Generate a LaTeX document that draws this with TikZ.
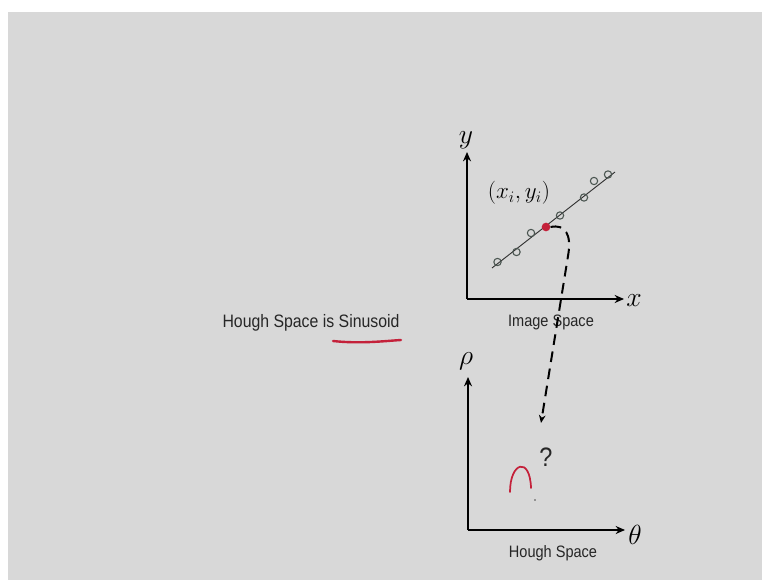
\documentclass[tikz,border=0pt]{standalone}
\usepackage{fontspec}
\usepackage{amsmath}
\setmainfont{Liberation Sans}[FakeStretch=0.88]
\usetikzlibrary{arrows.meta}
\definecolor{slidebg}{HTML}{D8D8D8}
\definecolor{inkred}{HTML}{C4213A}
\definecolor{ptgray}{HTML}{4A5550}
\begin{document}
\begin{tikzpicture}[x=0.75pt,y=-0.75pt]
\tikzset{axis/.style={line width=1.8pt,-{Stealth[length=7pt,width=6pt]}},
  pt/.style={circle,draw=ptgray,line width=0.8pt,inner sep=0pt,minimum size=5.5pt},
  lbl/.style={text=black!85,font=\fontsize{12.4}{14}\selectfont},
  mlbl/.style={font=\fontsize{21}{24}\selectfont}}
\path (0,0) rectangle (762,580);
\fill[slidebg] (8,12) rectangle (762,580);
% image space
\coordinate (io) at (467,299);
\coordinate (iy) at (467,152);
\coordinate (ix) at (624,299);
\draw[axis] (io) -- (iy);
\draw[axis] (io) -- (ix);
\node[mlbl] (ylab) at (466,140) {$y$};
\node[mlbl] (xlab) at (634,301) {$x$};
\node[lbl] (imlab) at (551,322) {Image Space};
\coordinate (la) at (492,268);
\coordinate (lb) at (615,172);
\draw[line width=0.7pt,black!80] (la) -- (lb);
\node[pt] (p1) at (497.5,262) {};
\node[pt] (p2) at (516.5,252) {};
\node[pt] (p3) at (531,233) {};
\node[pt] (p5) at (560,215.5) {};
\node[pt] (p6) at (584,197.5) {};
\node[pt] (p7) at (594,181) {};
\node[pt] (p8) at (608,174.5) {};
\node[circle,fill=inkred,inner sep=0pt,minimum size=6.5pt] (pr) at (546,227) {};
\node (plab) at (519,193) {\fontsize{18}{20}\selectfont$(x_i,y_i)$};
% hough space
\coordinate (ho) at (468,530);
\coordinate (hr) at (468,377);
\coordinate (ht) at (625,530);
\draw[axis] (ho) -- (hr);
\draw[axis] (ho) -- (ht);
\node[mlbl] (rlab) at (466,361) {$\rho$};
\node[mlbl] (tlab) at (635,535) {$\theta$};
\node[lbl] (hslab) at (553,553) {Hough Space};
\node[text=black!85,font=\fontsize{20}{22}\selectfont] (qm) at (546,457) {?};
\coordinate (tip) at (541,423);
\draw[line width=1.5pt,dash pattern=on 8pt off 5pt,-{Stealth[length=6pt,width=5pt]}]
  (pr.east) .. controls (565,224) and (572,234) .. (568,256) -- (tip);
% handwriting
\draw[inkred,line width=1.3pt,line cap=round] (510,492) .. controls (510,462) and (530,456) .. (531,488);
\fill[black!70] (535,500) circle (0.7pt);
\node[text=black!85,font=\fontsize{13.5}{16}\selectfont] (title) at (311,323) {Hough Space is Sinusoid};
\draw[inkred,line width=1.8pt,line cap=round] (333,341) .. controls (360,344) and (385,341) .. (401,340);
\end{tikzpicture}
\end{document}
